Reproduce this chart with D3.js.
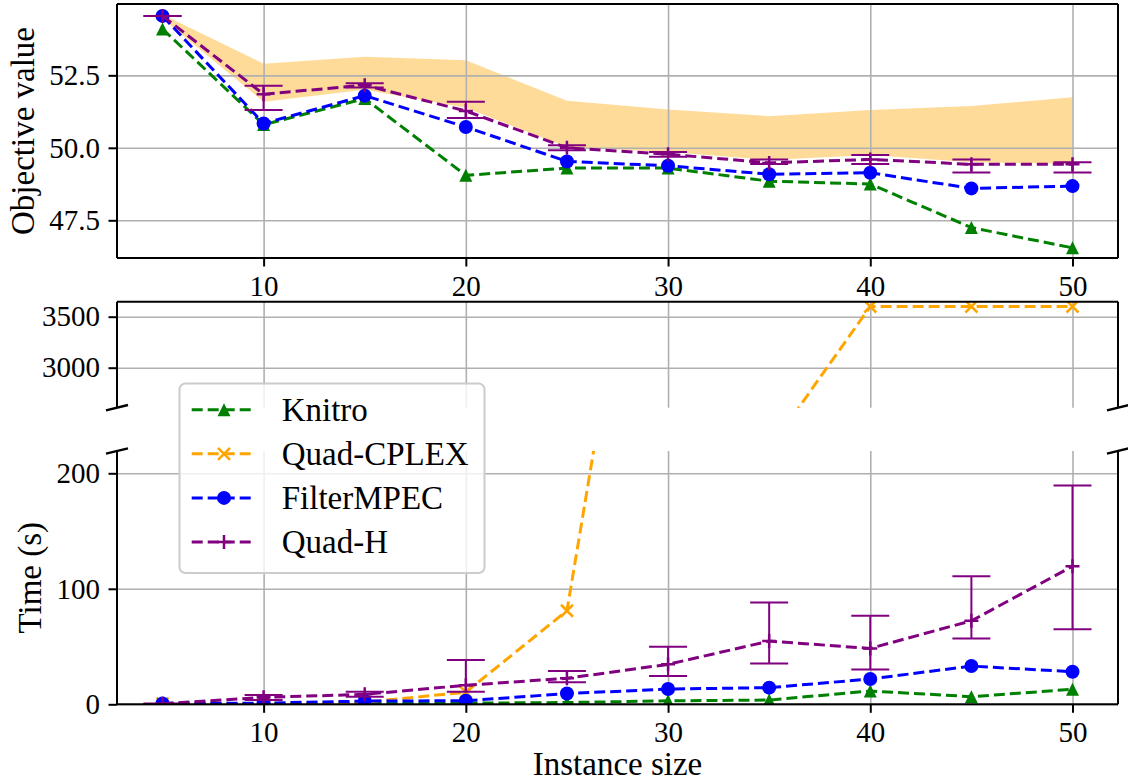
<!DOCTYPE html>
<html>
<head>
<meta charset="utf-8">
<script src="https://cdn.jsdelivr.net/npm/d3@7"></script>
<style>
body { margin: 0; background: #fff; }
</style>
</head>
<body>
<div id="chart"></div>
<script>
// instance sizes on the x axis
var sizes = [5, 10, 15, 20, 25, 30, 35, 40, 45, 50];
var xTicks = [10, 20, 30, 40, 50];

// objective value (top panel)
var objKnitro = [54.1, 50.8, 51.7, 49.05, 49.3, 49.3, 48.85, 48.75, 47.25, 46.55];
var objFilter = [54.55, 50.84, 51.8, 50.72, 49.53, 49.38, 49.09, 49.14, 48.6, 48.68];
var objQuadH = [54.55, 51.85, 52.16, 51.27, 50.0, 49.78, 49.48, 49.6, 49.43, 49.43];
var objQuadHLo = [54.55, 51.3, 52.08, 51.03, 49.92, 49.69, 49.44, 49.44, 49.15, 49.15];
var objQuadHHi = [54.55, 52.14, 52.23, 51.59, 50.09, 49.86, 49.6, 49.75, 49.6, 49.5];
// Quad-CPLEX band (lower / upper bound)
var cplexLower = [54.45, 51.59, 52.0, 51.38, 50.03, 49.86, 49.58, 49.75, 49.5, 49.45];
var cplexUpper = [54.6, 52.9, 53.14, 53.02, 51.62, 51.32, 51.09, 51.3, 51.44, 51.74];
var objTicks = [47.5, 50.0, 52.5];

// time in seconds (broken axis)
var timeKnitro = [0.3, 0.5, 0.6, 1.0, 1.5, 3.0, 3.7, 11.5, 6.6, 13];
var timeCplex = [0.5, 0.8, 1.8, 10.5, 81, 605, 2200, 3600, 3600, 3600];
var timeFilter = [0.8, 1.0, 2.8, 3.1, 9.3, 13.2, 14.4, 21.9, 33.1, 28.2];
var timeQuadH = [0.5, 6, 8.6, 16.5, 22.5, 34.6, 54.7, 48.4, 72.3, 119.5];
var timeQuadHLo = [0.3, 3.8, 6.6, 10.9, 19, 24.5, 35.4, 30.2, 57, 65];
var timeQuadHHi = [0.8, 8, 10.9, 38.3, 28.8, 49.8, 88.2, 76.6, 110.9, 189.5];
var highTicks = [3000, 3500];
var lowTicks = [0, 100, 200];

var legendNames = ['Knitro', 'Quad-CPLEX', 'FilterMPEC', 'Quad-H'];

var colors = {green: '#008000', orange: '#ffa500', blue: '#0000ff', purple: '#800080'};

var FONT = "'Liberation Serif', 'Times New Roman', Times, 'DejaVu Serif', serif";

var W = 1128, H = 782;
var left = 117, right = 1118;
var tickLen = 8.5;

var svg = d3.select('#chart').append('svg')
  .attr('width', W)
  .attr('height', H);

var x = d3.scaleLinear().domain([2.75, 52.25]).range([left, right]);

var yObj = d3.scaleLinear().domain([46.2, 54.96]).range([258, 4]);
var yHigh = d3.scaleLinear().domain([2608, 3647]).range([407.7, 301.7]);
var yLow = d3.scaleLinear().domain([0, 219.3]).range([704.3, 451]);

var defs = svg.append('defs');
function makePanel(id, y) {
  var r = y.range();
  defs.append('clipPath').attr('id', id)
    .append('rect')
    .attr('x', left).attr('y', r[1])
    .attr('width', right - left).attr('height', r[0] - r[1]);
  return svg.append('g');
}

function drawGrid(g, y, ticks) {
  var r = y.range();
  g.append('g')
    .attr('transform', 'translate(0,' + r[0] + ')')
    .call(d3.axisBottom(x).tickValues(xTicks).tickSize(-(r[0] - r[1])).tickFormat(''))
    .call(function(a) {
      a.select('.domain').remove();
      a.selectAll('line').attr('stroke', '#b0b0b0').attr('stroke-width', 1.6);
    });
  g.append('g')
    .attr('transform', 'translate(' + left + ',0)')
    .call(d3.axisLeft(y).tickValues(ticks).tickSize(-(right - left)).tickFormat(''))
    .call(function(a) {
      a.select('.domain').remove();
      a.selectAll('line').attr('stroke', '#b0b0b0').attr('stroke-width', 1.6);
    });
}

function styleAxis(a) {
  a.attr('font-family', null).attr('font-size', null);
  a.select('.domain').remove();
  a.selectAll('line').attr('stroke', '#000').attr('stroke-width', 2);
  a.selectAll('text')
    .style('font-family', FONT)
    .style('font-size', '29px')
    .attr('fill', '#000');
}

function drawYAxis(g, y, ticks, fmt) {
  g.append('g')
    .attr('transform', 'translate(' + left + ',0)')
    .call(d3.axisLeft(y).tickValues(ticks).tickSize(tickLen).tickPadding(8.5).tickFormat(fmt))
    .call(styleAxis);
}

function drawXAxis(g, y) {
  g.append('g')
    .attr('transform', 'translate(0,' + y.range()[0] + ')')
    .call(d3.axisBottom(x).tickValues(xTicks).tickSize(tickLen).tickPadding(9).tickFormat(d3.format('d')))
    .call(styleAxis);
}

function spine(g, x1, y1, x2, y2) {
  g.append('line')
    .attr('x1', x1).attr('y1', y1).attr('x2', x2).attr('y2', y2)
    .attr('stroke', '#000').attr('stroke-width', 2);
}

// marker shapes
function marker(g, kind, color, cx, cy) {
  if (kind === 'tri') {
    g.append('path').attr('d', 'M0,-6.5L6.5,6.5L-6.5,6.5Z')
      .attr('transform', 'translate(' + cx + ',' + cy + ')').attr('fill', color);
  } else if (kind === 'circle') {
    g.append('circle').attr('cx', cx).attr('cy', cy).attr('r', 7).attr('fill', color);
  } else if (kind === 'plus') {
    g.append('path').attr('d', 'M-7,0H7M0,-7V7')
      .attr('transform', 'translate(' + cx + ',' + cy + ')')
      .attr('stroke', color).attr('stroke-width', 2.5).attr('fill', 'none');
  } else if (kind === 'cross') {
    g.append('path').attr('d', 'M-6,-6L6,6M-6,6L6,-6')
      .attr('transform', 'translate(' + cx + ',' + cy + ')')
      .attr('stroke', color).attr('stroke-width', 2.5).attr('fill', 'none');
  }
}

function drawSeries(g, y, vals, color, kind) {
  var line = d3.line()
    .x(function(d, i) { return x(sizes[i]); })
    .y(function(d) { return y(d); });
  g.append('path')
    .datum(vals)
    .attr('d', line)
    .attr('fill', 'none')
    .attr('stroke', color)
    .attr('stroke-width', 3)
    .attr('stroke-dasharray', '11,5');
  vals.forEach(function(v, i) {
    marker(g, kind, color, x(sizes[i]), y(v));
  });
}

function drawErrors(g, y, lo, hi, color) {
  sizes.forEach(function(s, i) {
    var cx = x(s);
    g.append('line').attr('x1', cx).attr('x2', cx)
      .attr('y1', y(lo[i])).attr('y2', y(hi[i]))
      .attr('stroke', color).attr('stroke-width', 2);
    [lo[i], hi[i]].forEach(function(v) {
      g.append('line').attr('x1', cx - 19).attr('x2', cx + 19)
        .attr('y1', y(v)).attr('y2', y(v))
        .attr('stroke', color).attr('stroke-width', 2);
    });
  });
}

function label(txt, size) {
  return svg.append('text')
    .style('font-family', FONT)
    .style('font-size', size + 'px')
    .attr('fill', '#000')
    .text(txt);
}

// ---- top panel: objective value
var objPanel = makePanel('clipObj', yObj);
var objFill = objPanel.append('g').attr('clip-path', 'url(#clipObj)');
var band = d3.area()
  .x(function(d, i) { return x(sizes[i]); })
  .y0(function(d, i) { return yObj(cplexLower[i]); })
  .y1(function(d) { return yObj(d); });
objFill.append('path')
  .datum(cplexUpper)
  .attr('d', band)
  .attr('fill', colors.orange)
  .attr('fill-opacity', 0.4);
drawGrid(objPanel, yObj, objTicks);
var objLines = objPanel.append('g').attr('clip-path', 'url(#clipObj)');
drawSeries(objLines, yObj, objKnitro, colors.green, 'tri');
drawSeries(objLines, yObj, objFilter, colors.blue, 'circle');
drawErrors(objLines, yObj, objQuadHLo, objQuadHHi, colors.purple);
drawSeries(objLines, yObj, objQuadH, colors.purple, 'plus');
drawYAxis(objPanel, yObj, objTicks, d3.format('.1f'));
drawXAxis(objPanel, yObj);
spine(objPanel, left, 4, right, 4);
spine(objPanel, left, 258, right, 258);
spine(objPanel, left, 4, left, 258);
spine(objPanel, right, 4, right, 258);

// ---- middle panel: time, upper part
var highPanel = makePanel('clipHigh', yHigh);
drawGrid(highPanel, yHigh, highTicks);
var highLines = highPanel.append('g').attr('clip-path', 'url(#clipHigh)');
drawSeries(highLines, yHigh, timeKnitro, colors.green, 'tri');
drawSeries(highLines, yHigh, timeCplex, colors.orange, 'cross');
drawSeries(highLines, yHigh, timeFilter, colors.blue, 'circle');
drawSeries(highLines, yHigh, timeQuadH, colors.purple, 'plus');
drawYAxis(highPanel, yHigh, highTicks, d3.format('d'));
spine(highPanel, left, 301.7, right, 301.7);
spine(highPanel, left, 301.7, left, 407.7);
spine(highPanel, right, 301.7, right, 407.7);

// ---- bottom panel: time, lower part
var lowPanel = makePanel('clipLow', yLow);
drawGrid(lowPanel, yLow, lowTicks);
var lowLines = lowPanel.append('g').attr('clip-path', 'url(#clipLow)');
drawSeries(lowLines, yLow, timeKnitro, colors.green, 'tri');
drawSeries(lowLines, yLow, timeCplex, colors.orange, 'cross');
drawSeries(lowLines, yLow, timeFilter, colors.blue, 'circle');
drawErrors(lowLines, yLow, timeQuadHLo, timeQuadHHi, colors.purple);
drawSeries(lowLines, yLow, timeQuadH, colors.purple, 'plus');
drawYAxis(lowPanel, yLow, lowTicks, d3.format('d'));
drawXAxis(lowPanel, yLow);
spine(lowPanel, left, 704.3, right, 704.3);
spine(lowPanel, left, 451, left, 704.3);
spine(lowPanel, right, 451, right, 704.3);

// break marks
[[left, 407.7], [right, 407.7], [left, 451], [right, 451]].forEach(function(p) {
  svg.append('line')
    .attr('x1', p[0] - 11).attr('y1', p[1] + 2.7)
    .attr('x2', p[0] + 11).attr('y2', p[1] - 2.7)
    .attr('stroke', '#000').attr('stroke-width', 2.4);
});

// axis labels
label('Objective value', 33)
  .attr('transform', 'translate(34,131) rotate(-90)')
  .attr('text-anchor', 'middle');
label('Time (s)', 33)
  .attr('transform', 'translate(41,577.7) rotate(-90)')
  .attr('text-anchor', 'middle');
label('Instance size', 33)
  .attr('x', (left + right) / 2)
  .attr('y', 775)
  .attr('text-anchor', 'middle');

// legend
var legend = svg.append('g');
legend.append('rect')
  .attr('x', 179.5).attr('y', 383.5)
  .attr('width', 305).attr('height', 189.5)
  .attr('rx', 6)
  .attr('fill', '#fff').attr('fill-opacity', 0.8)
  .attr('stroke', '#cccccc').attr('stroke-width', 2);
var legendColors = [colors.green, colors.orange, colors.blue, colors.purple];
var legendMarkers = ['tri', 'cross', 'circle', 'plus'];
legendNames.forEach(function(name, i) {
  var ly = 409.7 + i * 44.1;
  legend.append('line')
    .attr('x1', 191.7).attr('x2', 255)
    .attr('y1', ly).attr('y2', ly)
    .attr('stroke', legendColors[i])
    .attr('stroke-width', 3)
    .attr('stroke-dasharray', '11,5');
  marker(legend, legendMarkers[i], legendColors[i], 224, ly);
  legend.append('text')
    .style('font-family', FONT)
    .style('font-size', '33px')
    .attr('fill', '#000')
    .attr('x', 281.7).attr('y', ly + 11)
    .text(name);
});
</script>
</body>
</html>
